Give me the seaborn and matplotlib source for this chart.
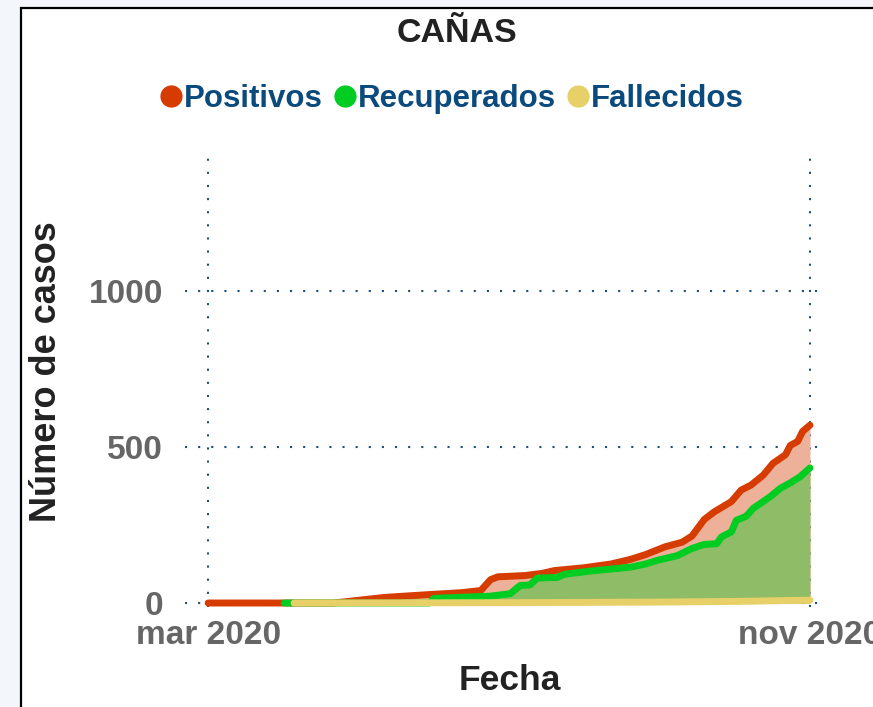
import pandas as pd
import numpy as np
import matplotlib
matplotlib.use("Agg")
import matplotlib.pyplot as plt
from matplotlib.lines import Line2D
from matplotlib.patches import Rectangle
import seaborn as sns

# ------------------------------------
# Data
# ------------------------------------
POS_DATES = ["2020-03-01", "2020-04-21", "2020-04-27", "2020-05-05", "2020-05-12",
             "2020-05-20", "2020-06-01", "2020-06-12", "2020-06-20", "2020-06-24",
             "2020-06-27", "2020-07-08", "2020-07-15", "2020-07-20", "2020-08-01",
             "2020-08-12", "2020-08-20", "2020-08-26", "2020-09-03", "2020-09-10",
             "2020-09-14", "2020-09-19", "2020-09-23", "2020-09-30", "2020-10-04",
             "2020-10-08", "2020-10-13", "2020-10-17", "2020-10-22", "2020-10-24",
             "2020-10-27", "2020-10-29", "2020-11-01"]
POS_VALUES = [0, 0, 5, 12, 18, 22, 28, 33, 40, 75, 84, 88, 95, 104, 113, 125, 140,
              155, 180, 195, 215, 268, 292, 325, 362, 378, 410, 448, 475, 505, 518,
              550, 570]

REC_DATES = ["2020-04-01", "2020-05-30", "2020-06-01", "2020-06-24", "2020-07-02",
             "2020-07-06", "2020-07-10", "2020-07-13", "2020-07-21", "2020-07-24",
             "2020-08-01", "2020-08-07", "2020-08-20", "2020-08-26", "2020-08-31",
             "2020-09-08", "2020-09-14", "2020-09-19", "2020-09-24", "2020-09-26",
             "2020-09-30", "2020-10-02", "2020-10-06", "2020-10-09", "2020-10-12",
             "2020-10-16", "2020-10-20", "2020-10-24", "2020-10-28", "2020-11-01"]
REC_VALUES = [0, 0, 15, 22, 30, 56, 58, 80, 82, 92, 100, 105, 115, 125, 137, 152,
              175, 188, 190, 212, 228, 265, 278, 304, 320, 342, 368, 385, 405, 433]

FAL_DATES = ["2020-04-05", "2020-07-01", "2020-09-01", "2020-10-01", "2020-11-01"]
FAL_VALUES = [0, 1, 3, 5, 9]

TITLE = "CAÑAS"
SERIES = ["Positivos", "Recuperados", "Fallecidos"]
LINE_COLORS = ["#d63c00", "#00cc22", "#e8d068"]
FILL_COLORS = ["#edb199", "#8fbc66"]
X_TICKS = ["2020-03-01", "2020-11-01"]
X_TICK_LABELS = ["mar 2020", "nov 2020"]
Y_TICKS = [0, 500, 1000]

GRID_COLOR = "#1b4f7e"
TEXT_DARK = "#222222"
TICK_GREY = "#666666"
LEGEND_BLUE = "#0b4a7d"


def to_frame(dates, values):
    return pd.DataFrame({"fecha": pd.to_datetime(dates), "casos": values})


def main():
    sns.set_style("white")
    plt.rcParams["font.family"] = ["Liberation Sans", "DejaVu Sans"]

    pos = to_frame(POS_DATES, POS_VALUES)
    rec = to_frame(REC_DATES, REC_VALUES)
    fal = to_frame(FAL_DATES, FAL_VALUES)

    fig = plt.figure(figsize=(8.73, 7.07), dpi=100)
    fig.patch.set_facecolor("#f3f7fc")
    # white card with black border
    fig.add_artist(Rectangle((21 / 873, -0.05), 1.2, 1 - 8 / 707 + 0.05,
                             transform=fig.transFigure, facecolor="white",
                             edgecolor="black", linewidth=1.6, zorder=0))

    W, H = 873, 707
    left, right, top, bottom = 185, 822, 150, 607
    ax = fig.add_axes([left / W, 1 - bottom / H, (right - left) / W, (bottom - top) / H])
    ax.set_facecolor("none")

    # fills
    ax.fill_between(pos["fecha"], 0, pos["casos"], color=FILL_COLORS[0], lw=0, zorder=1)
    ax.fill_between(rec["fecha"], 0, rec["casos"], color=FILL_COLORS[1], lw=0, zorder=2)

    for df, col, z in [(pos, LINE_COLORS[0], 3), (rec, LINE_COLORS[1], 4), (fal, LINE_COLORS[2], 5)]:
        sns.lineplot(data=df, x="fecha", y="casos", color=col, lw=5, ax=ax,
                     zorder=z, solid_capstyle="round", solid_joinstyle="round")

    # axis limits: 2.457 px per day
    start = pd.Timestamp("2020-03-01")
    end = pd.Timestamp("2020-11-01")
    ax.set_xlim(start - pd.Timedelta(days=9.4), end + pd.Timedelta(days=4.9))
    ax.set_ylim(-12.8, 1452)

    ax.set_xticks(pd.to_datetime(X_TICKS))
    ax.set_xticklabels(X_TICK_LABELS)
    ax.set_yticks(Y_TICKS)
    ax.set_yticklabels([str(v) for v in Y_TICKS])
    ax.tick_params(axis="both", length=0, labelsize=24, labelcolor=TICK_GREY)
    ax.tick_params(axis="y", pad=16)
    ax.tick_params(axis="x", pad=9)
    for lab in ax.get_xticklabels() + ax.get_yticklabels():
        lab.set_fontweight("bold")
    for lab in ax.get_xticklabels():
        lab.set_clip_on(False)

    ax.grid(True, color=GRID_COLOR, linestyle=(0, (1, 5.3)), linewidth=1.5, zorder=0)
    ax.set_axisbelow(True)
    sns.despine(ax=ax, left=True, bottom=True)

    ax.set_xlabel("Fecha", fontsize=25.5, fontweight="bold", color=TEXT_DARK)
    ax.set_ylabel("Número de casos", fontsize=26, fontweight="bold", color=TEXT_DARK)
    ax.xaxis.set_label_coords((510 - left) / (right - left), (bottom - 681) / (bottom - top))
    ax.yaxis.set_label_coords((47 - left) / (right - left), (bottom - 372) / (bottom - top))
    ax.xaxis.label.set_va("center")
    ax.yaxis.label.set_va("center")

    fig.text(457 / W, 1 - 33 / H, TITLE, ha="center", va="center", fontsize=24.5,
             fontweight="bold", color=TEXT_DARK)

    handles = [Line2D([], [], marker="o", linestyle="", color=c, markersize=15)
               for c in LINE_COLORS]
    leg = fig.legend(handles, SERIES, loc="center", bbox_to_anchor=(453 / W, 1 - 99 / H),
                     ncol=3, frameon=False, handlelength=0.55, handletextpad=0.12,
                     columnspacing=0.45, prop={"size": 22.5, "weight": "bold"})
    for t in leg.get_texts():
        t.set_color(LEGEND_BLUE)

    fig.savefig("out.png", dpi=100)


if __name__ == "__main__":
    main()
